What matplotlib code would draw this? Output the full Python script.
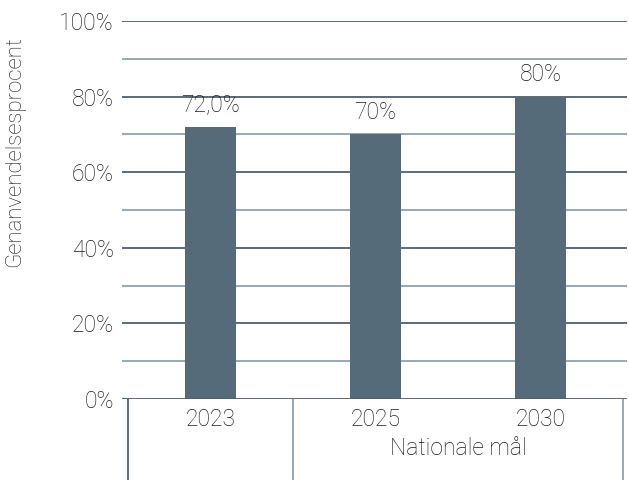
import numpy as np
import matplotlib.pyplot as plt

categories = ['2023', '2025', '2030']
values = [72.0, 70, 80]
value_labels = ['72,0%', '70%', '80%']
group_label = 'Nationale mål'
y_ticks = [0, 20, 40, 60, 80, 100]
y_tick_labels = ['0%', '20%', '40%', '60%', '80%', '100%']

plt.rcParams['font.family'] = ['Roboto', 'DejaVu Sans']
plt.rcParams['font.weight'] = 'light'

bar_color = '#566b79'
major_color = '#4e5f6b'
minor_color = '#90a0ab'
text_color = '#1a1a1a'
fs = 16.5

fig = plt.figure(figsize=(6.29, 4.80), dpi=100)
ax = fig.add_axes([122 / 629, 1 - 399 / 480, 505 / 629, 378 / 480])

x = np.arange(len(categories))
ax.bar(x, values, width=0.315, color=bar_color, zorder=3)

for yv in range(10, 101, 10):
    c = major_color if yv % 20 == 0 else minor_color
    ax.axhline(yv, color=c, lw=1.3, zorder=1)
ax.axhline(0, color=major_color, lw=1.3, zorder=4)

for xi, v, lab in zip(x, values, value_labels):
    ax.annotate(lab, (xi, v), xytext=(0, 11), textcoords='offset points',
                ha='center', va='baseline', fontsize=fs, color=text_color)

ax.set_xlim(-0.5 - 6 / 165, 2.5 + 4 / 165)
ax.set_ylim(0, 100)
ax.set_yticks(y_ticks)
ax.set_yticklabels(y_tick_labels, fontsize=fs, color=text_color)
ax.tick_params(axis='y', length=0, pad=6)
ax.set_xticks([])
for s in ax.spines.values():
    s.set_visible(False)

# category labels and group separators below the axis
for xi, cat in zip(x, categories):
    ax.text(xi, -2.5, cat, ha='center', va='top', fontsize=fs, color=text_color,
            clip_on=False)
ax.text(1.5, -10, group_label, ha='center', va='top', fontsize=fs,
        color=text_color, clip_on=False)
for xs, c in [(-0.5, major_color), (0.5, minor_color), (2.5, minor_color)]:
    ax.plot([xs, xs], [0, -22], color=c, lw=1.3, clip_on=False)

fig.text(15 / 629, 1 - 152 / 480, 'Genanvendelsesprocent', rotation=90,
         ha='center', va='center', fontsize=15.9, color=text_color)

fig.savefig('out.png', dpi=100)
